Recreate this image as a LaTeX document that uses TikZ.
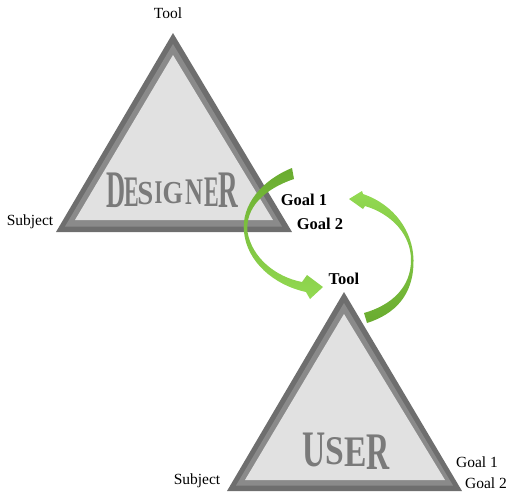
\documentclass[tikz,border=0pt]{standalone}
\usepackage{fontspec}
\setmainfont{Liberation Serif}
\usepackage{graphicx}
\definecolor{rimdark}{HTML}{6E6E6E}
\definecolor{rimmid}{HTML}{8A8A8A}
\definecolor{facefill}{HTML}{E1E1E1}
\definecolor{wordgray}{HTML}{7A7A7A}
\definecolor{greendark}{HTML}{69AB2F}
\definecolor{greenlight}{HTML}{93DA52}
\tikzset{
  lbl/.style={inner sep=0pt, font=\fontsize{15.5}{16}\selectfont},
  lblb/.style={inner sep=0pt, font=\fontsize{16.5}{17}\selectfont\bfseries},
  bigletter/.style={inner sep=0pt, text=wordgray, font=\fontsize{40}{40}\selectfont\bfseries},
}
% one stretched letter of a role word: name, x, y, xscale, yscale, letter
\newcommand{\wordletter}[6]{\node[bigletter] (#1) at (#2,#3) {\scalebox{#4}[#5]{#6}};}
\begin{document}
\begin{tikzpicture}[x=1pt,y=-1pt]
\useasboundingbox (0,0) rectangle (509,491);

% ---- designer triangle ----
\fill[rimdark] (173,33) -- (56,232) -- (292,232) -- cycle;
\fill[rimmid] (173,44) -- (65,226.5) -- (282,226.5) -- cycle;
\fill[facefill] (173,55) -- (75,220) -- (273,220) -- cycle;

% ---- user triangle ----
\fill[rimdark] (344,292) -- (227,491) -- (462,491) -- cycle;
\fill[rimmid] (344,303) -- (236,485.5) -- (453,485.5) -- cycle;
\fill[facefill] (344,314) -- (245,480) -- (445,480) -- cycle;

% ---- role words ----
\wordletter{d1}{116}{190.5}{0.66}{1.32}{D}
\wordletter{d2}{131.5}{192.5}{0.55}{1.09}{E}
\wordletter{d3}{145.5}{193.5}{0.72}{0.84}{S}
\wordletter{d4}{158.5}{193}{0.5}{0.83}{I}
\wordletter{d5}{173}{193}{0.66}{0.8}{G}
\wordletter{d6}{194}{192.5}{0.62}{0.94}{N}
\wordletter{d7}{211.5}{192.5}{0.55}{1.09}{E}
\wordletter{d8}{228}{190.5}{0.68}{1.32}{R}

\wordletter{u1}{314}{450}{0.8}{1.28}{U}
\wordletter{u2}{334.5}{451}{0.84}{1.02}{S}
\wordletter{u3}{356}{452.5}{0.84}{1.09}{E}
\wordletter{u4}{378.5}{452.5}{0.8}{1.32}{R}

% ---- vertex labels ----
\node[lbl] (dtool) at (168,13) {Tool};
\node[lbl] (dsubj) at (30,222) {Subject};
\node[lblb] (dg1) at (304,200) {Goal 1};
\node[lblb] (dg2) at (320,224) {Goal 2};

\node[lblb] (utool) at (344,279) {Tool};
\node[lbl] (usubj) at (197,481) {Subject};
\node[lbl] (ug1) at (477,462) {Goal 1};
\node[lbl] (ug2) at (486,483) {Goal 2};

% ---- curved arrow from designer down to user ----
\shade[top color=greendark, bottom color=greenlight]
  (292,168) .. controls (262,180) and (241,205) .. (244,232)
  .. controls (247,262) and (274,285) .. (306,292)
  -- (310,299) -- (323,287) -- (307,275) -- (302,282)
  .. controls (276,277) and (252,258) .. (247.5,232)
  .. controls (245,208) and (264,189) .. (294,179) -- cycle;

% ---- curved arrow from user back up to designer ----
\shade[top color=greenlight, bottom color=greendark]
  (367,323) .. controls (395,314) and (414,295) .. (413.5,260)
  .. controls (413,232) and (395,205) .. (363,194)
  -- (362,191) -- (349,199) -- (363,209) -- (365,206)
  .. controls (392,214) and (411,235) .. (411,260)
  .. controls (411,287) and (392,305) .. (364,313) -- cycle;
\end{tikzpicture}
\end{document}
